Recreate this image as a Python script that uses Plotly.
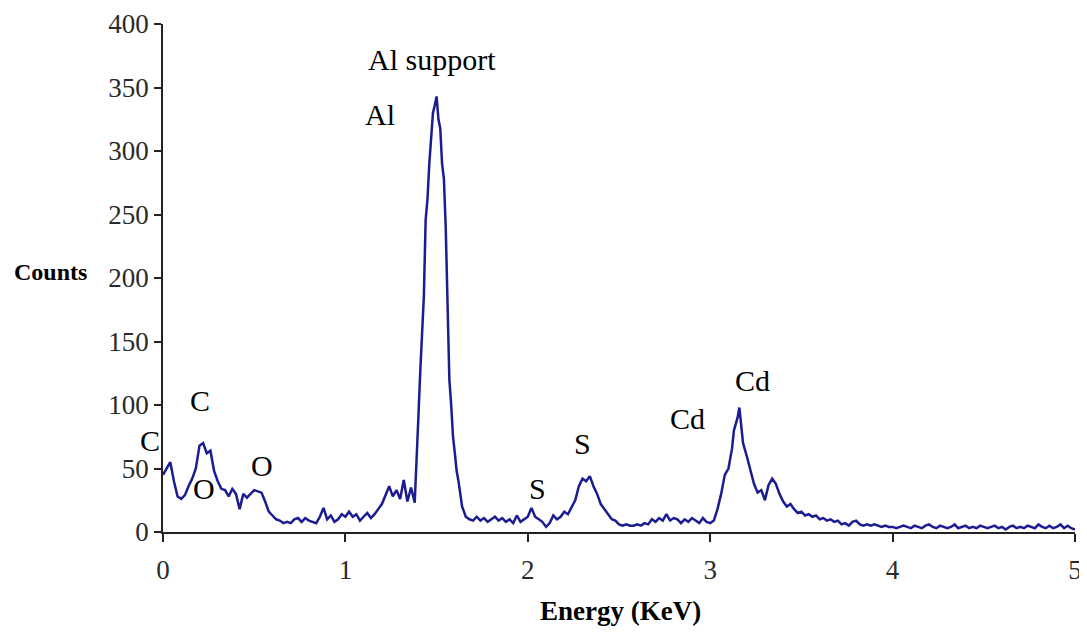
import plotly.graph_objects as go

# Energy channels (keV) and counts
energy_kev = [
    0.00, 0.02, 0.04, 0.06, 0.08, 0.10, 0.12, 0.14, 0.16, 0.18,
    0.20, 0.22, 0.24, 0.26, 0.28, 0.30, 0.32, 0.34, 0.36, 0.38,
    0.40, 0.42, 0.44, 0.46, 0.48, 0.50, 0.52, 0.54, 0.56, 0.58,
    0.60, 0.62, 0.64, 0.66, 0.68, 0.70, 0.72, 0.74, 0.76, 0.78,
    0.80, 0.82, 0.84, 0.86, 0.88, 0.90, 0.92, 0.94, 0.96, 0.98,
    1.00, 1.02, 1.04, 1.06, 1.08, 1.10, 1.12, 1.14, 1.16, 1.18,
    1.20, 1.22, 1.24, 1.26, 1.28, 1.30, 1.32, 1.34, 1.36, 1.38,
    1.39, 1.40, 1.41, 1.42, 1.43, 1.44, 1.45, 1.46, 1.47, 1.48,
    1.49, 1.50, 1.51, 1.52, 1.53, 1.54, 1.55, 1.56, 1.57, 1.58,
    1.59, 1.60, 1.61, 1.62, 1.63, 1.64, 1.65, 1.66, 1.68, 1.70,
    1.72, 1.74, 1.76, 1.78, 1.80, 1.82, 1.84, 1.86, 1.88, 1.90,
    1.92, 1.94, 1.96, 1.98, 2.00, 2.02, 2.04, 2.06, 2.08, 2.10,
    2.12, 2.14, 2.16, 2.18, 2.20, 2.22, 2.24, 2.26, 2.28, 2.30,
    2.32, 2.34, 2.36, 2.38, 2.40, 2.42, 2.44, 2.46, 2.48, 2.50,
    2.52, 2.54, 2.56, 2.58, 2.60, 2.62, 2.64, 2.66, 2.68, 2.70,
    2.72, 2.74, 2.76, 2.78, 2.80, 2.82, 2.84, 2.86, 2.88, 2.90,
    2.92, 2.94, 2.96, 2.98, 3.00, 3.02, 3.04, 3.06, 3.08, 3.10,
    3.12, 3.13, 3.14, 3.15, 3.16, 3.17, 3.18, 3.20, 3.22, 3.24,
    3.26, 3.28, 3.30, 3.32, 3.34, 3.36, 3.38, 3.40, 3.42, 3.44,
    3.46, 3.48, 3.50, 3.52, 3.54, 3.56, 3.58, 3.60, 3.62, 3.64,
    3.66, 3.68, 3.70, 3.72, 3.74, 3.76, 3.78, 3.80, 3.82, 3.84,
    3.86, 3.88, 3.90, 3.92, 3.94, 3.96, 3.98, 4.00, 4.02, 4.04,
    4.06, 4.08, 4.10, 4.12, 4.14, 4.16, 4.18, 4.20, 4.22, 4.24,
    4.26, 4.28, 4.30, 4.32, 4.34, 4.36, 4.38, 4.40, 4.42, 4.44,
    4.46, 4.48, 4.50, 4.52, 4.54, 4.56, 4.58, 4.60, 4.62, 4.64,
    4.66, 4.68, 4.70, 4.72, 4.74, 4.76, 4.78, 4.80, 4.82, 4.84,
    4.86, 4.88, 4.90, 4.92, 4.94, 4.96, 4.98, 5.00,
]

counts = [
    45, 50, 55, 40, 28, 26, 29, 36, 42, 50,
    68, 70, 62, 64, 48, 40, 34, 33, 28, 34,
    30, 18, 30, 27, 30, 33, 32, 31, 24, 16,
    13, 10, 9, 7, 8, 7, 10, 11, 8, 11,
    9, 8, 7, 12, 19, 10, 13, 8, 10, 14,
    12, 16, 12, 14, 9, 12, 15, 11, 14, 18,
    22, 29, 36, 28, 33, 26, 41, 24, 35, 23,
    52, 90, 125, 160, 185, 246, 262, 290, 315, 330,
    336, 343, 325, 318, 290, 278, 240, 185, 120, 100,
    75, 62, 48, 40, 28, 20, 16, 12, 10, 9,
    12, 9, 11, 8, 10, 12, 9, 11, 8, 10,
    7, 13, 8, 10, 12, 19, 12, 10, 8, 4,
    7, 13, 10, 12, 16, 14, 19, 25, 36, 42,
    40, 44, 36, 30, 22, 18, 14, 10, 9, 6,
    5, 6, 5, 5, 6, 5, 7, 6, 10, 8,
    11, 9, 14, 9, 11, 10, 7, 10, 8, 11,
    9, 7, 11, 8, 7, 9, 18, 30, 45, 50,
    66, 80, 85, 90, 98, 85, 70, 60, 50, 38,
    31, 33, 25, 37, 42, 38, 30, 24, 20, 22,
    18, 15, 16, 13, 14, 12, 13, 10, 11, 9,
    10, 8, 9, 6, 7, 5, 8, 9, 6, 5,
    6, 5, 6, 5, 4, 5, 4, 4, 3, 4,
    5, 4, 3, 5, 4, 3, 5, 6, 4, 3,
    5, 4, 3, 4, 6, 3, 4, 5, 3, 4,
    3, 5, 4, 3, 4, 5, 3, 4, 2, 4,
    5, 3, 4, 3, 5, 4, 3, 6, 4, 3,
    5, 3, 4, 6, 3, 5, 3, 2,
]

x_ticks = [0, 1, 2, 3, 4, 5]
y_ticks = [0, 50, 100, 150, 200, 250, 300, 350, 400]

# Element labels: text and (page pixel) positions
peak_labels = ["Al support", "Al", "C", "C", "O", "O", "S", "S", "Cd", "Cd"]
label_px = [432, 380, 200, 150, 204, 262, 537, 582, 687, 752]
label_py = [60, 114, 400, 440, 488, 465, 488, 443, 418, 380]

# page is rendered with an 8px body margin; compensate so the plot lands where the reference is
OFF = 8
W, H = 1087, 632
PLOT_L, PLOT_R, PLOT_T, PLOT_B = 163, 1075, 24, 532   # page pixels of the plot area
LEFT = PLOT_L - OFF
TOP = PLOT_T - OFF
RIGHT = W - (PLOT_R - OFF)
BOTTOM = H - (PLOT_B - OFF)
PW, PH = PLOT_R - PLOT_L, PLOT_B - PLOT_T


def px_to_paper(px, py):
    return (px - PLOT_L) / PW, (PLOT_B - py) / PH


serif = "Liberation Serif, Times New Roman, serif"

fig = go.Figure()
fig.add_trace(go.Scatter(
    x=energy_kev, y=counts, mode="lines",
    line=dict(color="#1c1c92", width=2.5),
    showlegend=False, hoverinfo="skip",
))

for txt, px, py in zip(peak_labels, label_px, label_py):
    ax, ay = px_to_paper(px, py)
    fig.add_annotation(
        x=ax, y=ay, xref="paper", yref="paper", text=txt, showarrow=False,
        font=dict(family=serif, size=30, color="black"),
        xanchor="center", yanchor="middle",
    )

ax, ay = px_to_paper(50, 272)
fig.add_annotation(
    x=ax, y=ay, xref="paper", yref="paper",
    text="<b>Counts</b>", showarrow=False,
    font=dict(family=serif, size=24, color="black"),
    xanchor="center", yanchor="middle",
)
ax, ay = px_to_paper(620, 611)
fig.add_annotation(
    x=ax, y=ay, xref="paper", yref="paper",
    text="<b>Energy (KeV)</b>", showarrow=False,
    font=dict(family=serif, size=27, color="black"),
    xanchor="center", yanchor="middle",
)

fig.update_layout(
    width=W, height=H,
    margin=dict(l=LEFT, r=RIGHT, t=TOP, b=BOTTOM, autoexpand=False),
    paper_bgcolor="white", plot_bgcolor="white",
    font=dict(family=serif, color="#222222"),
)
fig.update_xaxes(
    range=[0, 5], tickvals=x_ticks, ticktext=[str(v) for v in x_ticks],
    showgrid=False, zeroline=False, showline=True, linecolor="#222222", linewidth=1.5,
    ticks="outside", ticklen=8, tickwidth=1.5, tickcolor="#222222", ticklabelstandoff=5,
    tickfont=dict(family=serif, size=27, color="#2a2a2a"), automargin=False,
)
fig.update_yaxes(
    range=[0, 400], tickvals=y_ticks, ticktext=[str(v) for v in y_ticks],
    showgrid=False, zeroline=False, showline=True, linecolor="#222222", linewidth=1.5,
    ticks="outside", ticklen=7, tickwidth=1.5, tickcolor="#222222",
    tickfont=dict(family=serif, size=27, color="#2a2a2a"), automargin=False,
)

fig.write_html("out.html")
